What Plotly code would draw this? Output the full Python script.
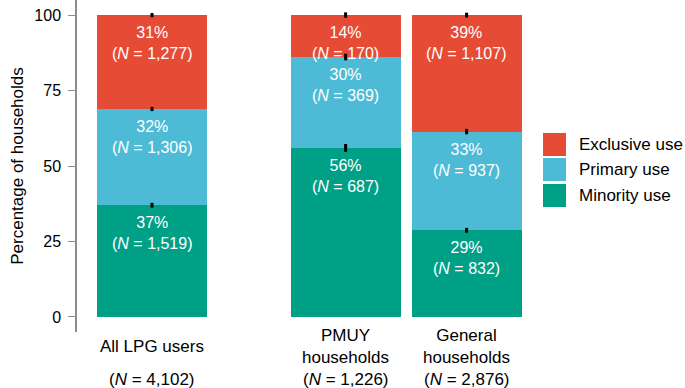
import plotly.graph_objects as go

# ---------------- data ----------------
groups = ["All LPG users", "PMUY<br>households", "General<br>households"]
group_n = [4102, 1226, 2876]
series = ["Minority use", "Primary use", "Exclusive use"]
colors = ["#00A087", "#4DBBD5", "#E64B35"]
# percentage of households per group (All, PMUY, General) for each series
pct_minority = [37.0, 56.0, 28.7]
pct_primary = [31.9, 30.1, 32.7]
pct_exclusive = [31.1, 13.9, 38.6]
# household counts per group for each series
n_minority = [1519, 687, 832]
n_primary = [1306, 369, 937]
n_exclusive = [1277, 170, 1107]
# approximate error (+/- percentage points) at the top of each segment
err_minority = [0.8, 1.3, 0.8]
err_primary = [0.7, 1.1, 0.9]
err_exclusive = [0.7, 0.9, 0.8]

pct = [pct_minority, pct_primary, pct_exclusive]
counts = [n_minority, n_primary, n_exclusive]
errs = [err_minority, err_primary, err_exclusive]

# ---------------- layout constants ----------------
W, H = 685, 388
ML, MR, MT, MB = 77, 155, 0, 56
PW, PH = W - ML - MR, H - MT - MB
xpos = [0, 1.6, 2.6]
FONT = "Liberation Sans, Arial, Helvetica, sans-serif"


def px_x(px):
    return (px - ML) / PW


def px_y(py):
    return (MT + PH - py) / PH


fig = go.Figure()
for s, name in enumerate(series):
    fig.add_trace(go.Bar(
        x=xpos, y=pct[s], name=name, width=0.91,
        marker=dict(color=colors[s], line=dict(width=0)),
        showlegend=False, hoverinfo="skip",
    ))

# error ticks at the top of each segment (drawn above all bars)
cum = [0, 0, 0]
for s in range(3):
    cum = [cum[i] + pct[s][i] for i in range(3)]
    top = [min(v, 100) for v in cum]
    fig.add_trace(go.Scatter(
        x=xpos, y=top, mode="markers",
        marker=dict(size=1, color="rgba(0,0,0,0)"),
        error_y=dict(type="data", array=errs[s], color="black",
                     thickness=3, width=0),
        showlegend=False, hoverinfo="skip",
    ))

annotations = []
# segment labels
cum = [0, 0, 0]
for s in range(3):
    cum = [cum[i] + pct[s][i] for i in range(3)]
    for i in range(3):
        annotations.append(dict(
            x=xpos[i], y=min(cum[i], 100), xref="x", yref="y",
            text=f"{round(pct[s][i])}%<br>(<i>N</i> = {counts[s][i]:,})",
            showarrow=False, yanchor="top", yshift=-7,
            font=dict(family=FONT, size=16, color="white"),
        ))

# x category labels
for i in range(3):
    annotations.append(dict(
        x=xpos[i], y=0, xref="x", yref="paper", text=groups[i],
        showarrow=False, yanchor="middle", yshift=-14,
        font=dict(family=FONT, size=17, color="black"),
    ))
    annotations.append(dict(
        x=xpos[i], y=0, xref="x", yref="paper",
        text=f"(<i>N</i> = {group_n[i]:,})",
        showarrow=False, yanchor="middle", yshift=-47,
        font=dict(family=FONT, size=17, color="black"),
    ))

# custom legend (top to bottom: Exclusive, Primary, Minority)
shapes = []
leg_top = [133, 158, 184]
for k, s in enumerate([2, 1, 0]):
    y0 = leg_top[k]
    shapes.append(dict(type="rect", xref="paper", yref="paper",
                       x0=px_x(543), x1=px_x(566), y0=px_y(y0 + 23), y1=px_y(y0),
                       fillcolor=colors[s], line=dict(width=0)))
    annotations.append(dict(
        x=px_x(577), y=px_y(y0 + 11.5), xref="paper", yref="paper",
        text=series[s], showarrow=False, xanchor="left", yanchor="middle",
        font=dict(family=FONT, size=17, color="black"),
    ))

fig.update_layout(
    width=W, height=H,
    margin=dict(l=ML, r=MR, t=MT, b=MB, pad=0),
    barmode="stack",
    plot_bgcolor="white", paper_bgcolor="white",
    font=dict(family=FONT, size=16, color="black"),
    xaxis=dict(range=[-0.62, 3.124], showticklabels=False, showline=False,
               showgrid=False, zeroline=False, ticks=""),
    yaxis=dict(range=[-5, 105], tickvals=[0, 25, 50, 75, 100],
               showgrid=False, zeroline=False, showline=True,
               linecolor="#8c8c8c", linewidth=1.5,
               ticks="outside", ticklen=7, tickcolor="#8c8c8c", tickwidth=1.2,
               ticklabelstandoff=4,
               tickfont=dict(family=FONT, size=16, color="black"),
               title=dict(text="Percentage of households", standoff=6,
                          font=dict(family=FONT, size=17, color="black"))),
    annotations=annotations, shapes=shapes,
)

fig.write_html(
    "out.html",
    config={"displayModeBar": False},
    post_script="document.body.style.margin='0px';document.body.style.overflow='hidden';",
)
